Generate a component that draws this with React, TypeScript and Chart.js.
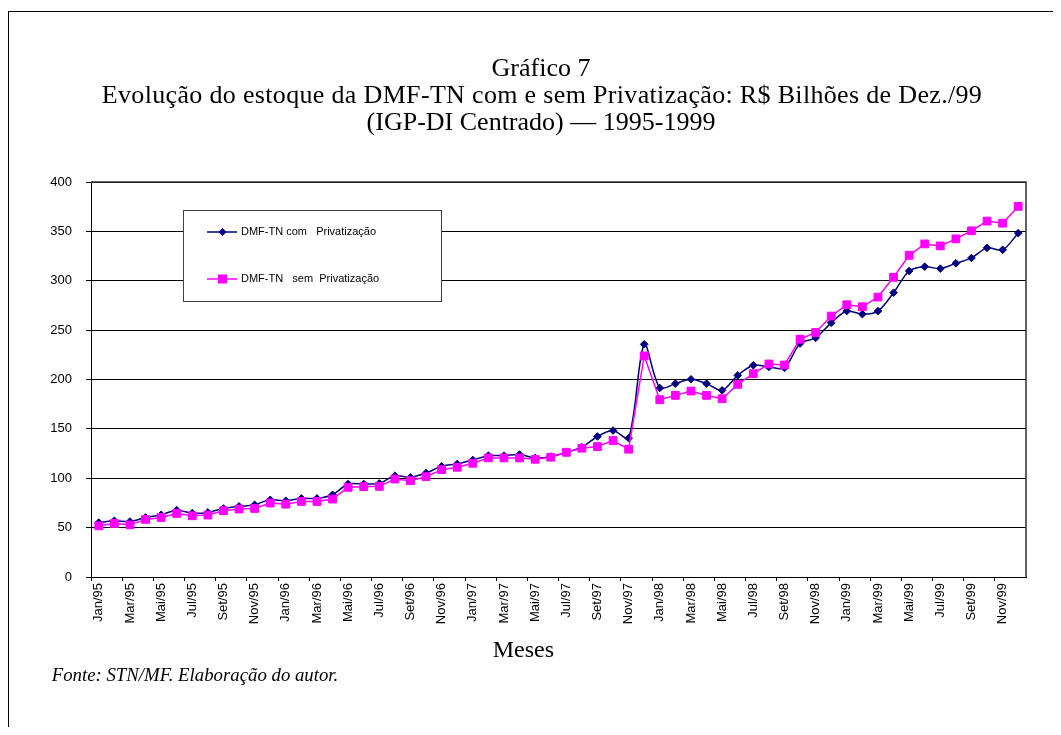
import React, { useEffect, useRef } from "react";
import { Chart, registerables } from "chart.js";

Chart.register(...registerables);

const monthNames = ["Jan", "Fev", "Mar", "Abr", "Mai", "Jun", "Jul", "Ago", "Set", "Out", "Nov", "Dez"];
const years = ["95", "96", "97", "98", "99"];
const categories: string[] = years.flatMap((y) => monthNames.map((m) => `${m}/${y}`));

const comPrivatizacao = [
  55.2, 56.9, 56.2, 60.3, 63.0, 67.7, 64.7, 65.4, 69.4, 71.5, 73.2, 78.2,
  77.2, 79.6, 79.6, 83.3, 94.2, 94.2, 94.8, 102.6, 100.9, 105.3, 112.1, 114.5,
  118.5, 122.9, 122.9, 124.0, 120.6, 121.9, 126.3, 131.4, 142.3, 148.3, 140.6, 235.7,
  191.4, 195.8, 200.2, 195.8, 189.0, 204.2, 214.4, 212.7, 211.7, 236.4, 242.2, 257.4,
  269.3, 266.2, 269.3, 287.9, 309.9, 314.3, 312.3, 317.7, 323.1, 333.3, 331.3, 348.2,
];

const semPrivatizacao = [
  51.8, 54.2, 52.8, 58.3, 60.3, 64.4, 62.0, 62.7, 67.1, 68.8, 69.4, 74.9,
  73.8, 76.5, 76.5, 78.9, 90.8, 91.5, 91.8, 99.2, 97.5, 101.6, 108.7, 111.1,
  115.2, 120.6, 120.6, 120.6, 119.2, 121.3, 126.3, 130.4, 132.1, 138.2, 129.4, 223.9,
  179.5, 183.9, 188.3, 183.9, 180.5, 195.1, 205.9, 215.7, 214.7, 240.8, 247.6, 264.2,
  275.7, 273.7, 283.5, 303.5, 325.8, 337.3, 335.3, 342.4, 350.6, 360.4, 358.3, 375.3,
];

const seriesLabels = ["DMF-TN com   Privatização", "DMF-TN   sem  Privatização"];
const titleLines = [
  "Gráfico 7",
  "Evolução do estoque da DMF-TN com e sem Privatização: R$ Bilhões de Dez./99",
  "(IGP-DI Centrado) — 1995-1999",
];
const xAxisTitle = "Meses";
const sourceNote = "Fonte: STN/MF. Elaboração do autor.";

const NAVY = "#000080";
const MAGENTA = "#FF00FF";

const decorPlugin = {
  id: "decor",
  afterDraw(chart: any) {
    const { ctx, chartArea: a } = chart;
    ctx.save();
    // plot area border (top & right)
    ctx.strokeStyle = "#303030";
    ctx.lineWidth = 1.5;
    ctx.beginPath();
    ctx.moveTo(a.left, a.top);
    ctx.lineTo(a.right, a.top);
    ctx.lineTo(a.right, a.bottom);
    ctx.stroke();

    // legend box
    const lx = a.left + 92;
    const ly = a.top + 28;
    const lw = 258;
    const lh = 91;
    ctx.fillStyle = "#fff";
    ctx.fillRect(lx, ly, lw, lh);
    ctx.strokeStyle = "#404040";
    ctx.lineWidth = 1;
    ctx.strokeRect(Math.round(lx) + 0.5, Math.round(ly) + 0.5, lw, lh);

    const rows = [
      { y: ly + 22, color: NAVY, shape: "diamond", label: chart.data.datasets[1].label },
      { y: ly + 69, color: MAGENTA, shape: "square", label: chart.data.datasets[0].label },
    ];
    ctx.font = "11px 'Liberation Sans', Arial, sans-serif";
    ctx.textBaseline = "middle";
    ctx.textAlign = "left";
    for (const r of rows) {
      ctx.strokeStyle = r.color;
      ctx.lineWidth = 1.5;
      ctx.beginPath();
      ctx.moveTo(lx + 24, r.y);
      ctx.lineTo(lx + 54, r.y);
      ctx.stroke();
      const mx = lx + 39.5;
      ctx.fillStyle = r.color;
      ctx.beginPath();
      if (r.shape === "diamond") {
        ctx.moveTo(mx, r.y - 4);
        ctx.lineTo(mx + 4, r.y);
        ctx.lineTo(mx, r.y + 4);
        ctx.lineTo(mx - 4, r.y);
        ctx.closePath();
      } else {
        ctx.rect(mx - 4.5, r.y - 4.5, 9, 9);
      }
      ctx.fill();
      ctx.fillStyle = "#000";
      ctx.fillText(r.label, lx + 58, r.y);
    }

    // title block
    ctx.fillStyle = "#000";
    ctx.textAlign = "center";
    ctx.textBaseline = "middle";
    ctx.font = "26px 'Liberation Serif', 'Times New Roman', serif";
    const tx = 532;
    titleLines.forEach((line, i) => {
      (ctx as any).letterSpacing = i === 1 ? "0.33px" : "0px";
      ctx.fillText(line, i === 1 ? tx + 1 : tx, 56.7 + i * 27);
    });
    (ctx as any).letterSpacing = "0px";

    // axis title and source note
    ctx.textAlign = "center";
    ctx.textBaseline = "alphabetic";
    ctx.font = "24px 'Liberation Serif', 'Times New Roman', serif";
    ctx.fillText(xAxisTitle, chart.width / 2 - 11.6, 644.7);
    ctx.textAlign = "left";
    ctx.font = "italic 18.8px 'Liberation Serif', 'Times New Roman', serif";
    ctx.fillText(sourceNote, 42.7, 669);
    ctx.restore();
  },
};

export default function App() {
  const canvasRef = useRef<HTMLCanvasElement | null>(null);

  useEffect(() => {
    document.documentElement.style.overflow = "hidden";
    const canvas = canvasRef.current;
    if (!canvas) return;
    const chart = new Chart(canvas, {
      type: "line",
      data: {
        labels: categories,
        datasets: [
          {
            label: seriesLabels[1],
            data: semPrivatizacao,
            borderColor: MAGENTA,
            backgroundColor: MAGENTA,
            borderWidth: 1.5,
            pointStyle: "rect",
            pointRadius: 5.5,
            pointBorderWidth: 1,
            pointBorderColor: MAGENTA,
            pointBackgroundColor: MAGENTA,
            tension: 0,
            order: 0,
          },
          {
            label: seriesLabels[0],
            data: comPrivatizacao,
            borderColor: NAVY,
            backgroundColor: NAVY,
            borderWidth: 1.5,
            pointStyle: "rectRot",
            pointRadius: 3.8,
            pointBorderWidth: 1,
            pointBorderColor: NAVY,
            pointBackgroundColor: NAVY,
            tension: 0.3,
            order: 1,
          },
        ],
      },
      options: {
        animation: false,
        responsive: false,
        devicePixelRatio: 1,
        layout: { padding: { left: 30, right: 35, top: 170, bottom: 0 } },
        plugins: {
          legend: { display: false },
          tooltip: { enabled: false },
          title: { display: false },
        },
        scales: {
          x: {
            type: "category",
            offset: true,
            afterFit: (scale: any) => {
              scale.height = 150;
            },
            grid: {
              offset: true,
              drawOnChartArea: false,
              drawTicks: true,
              tickLength: 4,
              color: (c: any) => (c.index % 2 === 0 ? "#000" : "rgba(0,0,0,0)"),
            },
            border: { display: true, color: "#000", width: 1 },
            ticks: {
              autoSkip: false,
              minRotation: 90,
              maxRotation: 90,
              padding: 2,
              color: "#000",
              font: { family: "'Liberation Sans', Arial, sans-serif", size: 13 },
              callback: (_v: any, i: number) => (i % 2 === 0 ? categories[i] : ""),
            },
          },
          y: {
            min: 0,
            max: 400,
            afterFit: (scale: any) => {
              scale.width = 52;
            },
            grid: {
              color: "#000",
              lineWidth: 1,
              drawTicks: true,
              tickLength: 5,
            },
            border: { display: true, color: "#000", width: 1 },
            ticks: {
              stepSize: 50,
              padding: 14,
              color: "#000",
              font: { family: "'Liberation Sans', Arial, sans-serif", size: 13 },
            },
          },
        },
      },
      plugins: [decorPlugin],
    });
    return () => chart.destroy();
  }, []);

  return (
    <div
      style={{
        position: "relative",
        width: 1053,
        height: 716,
        marginTop: 3,
        boxSizing: "border-box",
        borderLeft: "1px solid #000",
        borderTop: "1px solid #000",
        overflow: "hidden",
      }}
    >
      <canvas
        ref={canvasRef}
        width={1052}
        height={715}
        style={{ position: "absolute", left: 0, top: 0, width: 1052, height: 715 }}
      />
    </div>
  );
}
